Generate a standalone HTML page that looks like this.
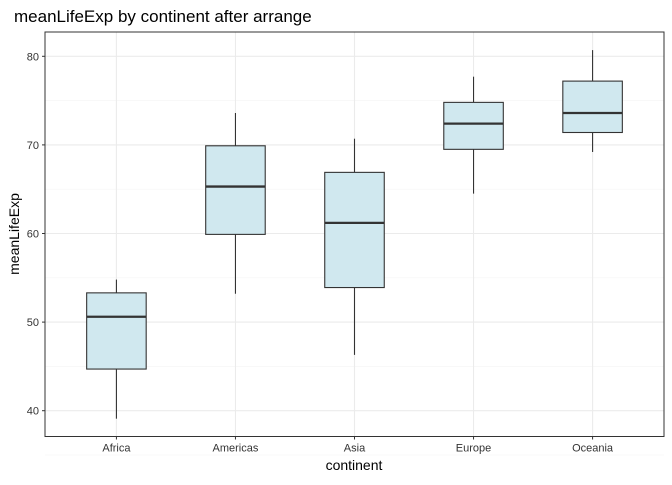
<!DOCTYPE html>
<html><head><meta charset="utf-8">
<style>
body{margin:0;background:#fff;font-family:"Liberation Sans",Arial,sans-serif;}
svg text{font-family:"Liberation Sans",Arial,sans-serif;}
</style></head>
<body>
<svg id="chart" width="672" height="480" xmlns="http://www.w3.org/2000/svg">
<text x="14" y="22" font-size="17" fill="#000">meanLifeExp by continent after arrange</text>
<g id="grid"></g>
<g id="boxes"></g>
<rect x="45" y="32" width="619" height="404.5" fill="none" stroke="#333" stroke-width="1"/>
<g id="axes"></g>
<text x="354" y="470" font-size="14" text-anchor="middle">continent</text>
<text transform="translate(19,234) rotate(-90)" font-size="14" text-anchor="middle">meanLifeExp</text>
</svg>
<script>
const categories=["Africa","Americas","Asia","Europe","Oceania"];
const whiskerLow=[39.1,53.2,46.3,64.5,69.2];
const q1=[44.7,59.9,53.9,69.5,71.4];
const median=[50.6,65.3,61.2,72.4,73.6];
const q3=[53.3,69.9,66.9,74.8,77.2];
const whiskerHigh=[54.8,73.6,70.7,77.7,80.7];
const yTicks=[40,50,60,70,80];

const NS="http://www.w3.org/2000/svg";
const L=45,R=664,T=32,B=436.5;
const step=(R-L)/(categories.length+0.2);
function y(v){return 410.7-(v-40)*8.86;}
function x(i){return L+step*(i+0.6);}
function mk(tag,attrs,parent){const e=document.createElementNS(NS,tag);for(const k in attrs)e.setAttribute(k,attrs[k]);parent.appendChild(e);return e;}
const grid=document.getElementById('grid'),boxes=document.getElementById('boxes'),axes=document.getElementById('axes');
mk('rect',{x:L,y:T,width:R-L,height:B-T,fill:'#fff'},grid);
for(let i=0;i<yTicks.length;i++){
  const v=yTicks[i];
  let g=mk('line',{x1:L,x2:R,y1:y(v),y2:y(v),stroke:'#ebebeb','stroke-width':1.1},grid);
  
  
  if(i<yTicks.length-1){const m=mk('line',{x1:L,x2:R,y1:y(v+5),y2:y(v+5),stroke:'#f4f4f4','stroke-width':0.6},grid);
  
  }
  const t=mk('text',{x:L-6,y:y(v)+4,'font-size':11,'text-anchor':'end',fill:'#333'},axes);t.textContent=v;
  
  
  mk('line',{x1:L-3,x2:L,y1:y(v),y2:y(v),stroke:'#333'},axes);
}
mk('line',{x1:L,x2:R,y1:y(35),y2:y(35),stroke:'#f4f4f4','stroke-width':0.6},grid);
for(let i=0;i<categories.length;i++){
  const cx=x(i);
  const g=mk('line',{x1:cx,x2:cx,y1:T,y2:B,stroke:'#ebebeb','stroke-width':1.1},grid);
  
  
  const t=mk('text',{x:cx,y:B+15,'font-size':11,'text-anchor':'middle',fill:'#333'},axes);t.textContent=categories[i];
  
  
  mk('line',{x1:cx,x2:cx,y1:B,y2:B+3,stroke:'#333'},axes);
  const grp=mk('g',{},boxes);
  
  
  const hw=step*0.25;
  mk('line',{x1:cx,x2:cx,y1:y(whiskerHigh[i]),y2:y(q3[i]),stroke:'#333','stroke-width':1.1},grp);
  mk('line',{x1:cx,x2:cx,y1:y(q1[i]),y2:y(whiskerLow[i]),stroke:'#333','stroke-width':1.1},grp);
  mk('rect',{x:cx-hw,y:y(q3[i]),width:2*hw,height:y(q1[i])-y(q3[i]),fill:'#d0e8ef',stroke:'#333','stroke-width':1.1},grp);
  mk('line',{x1:cx-hw,x2:cx+hw,y1:y(median[i]),y2:y(median[i]),stroke:'#333','stroke-width':2.3},grp);
}
</script>
</body></html>
